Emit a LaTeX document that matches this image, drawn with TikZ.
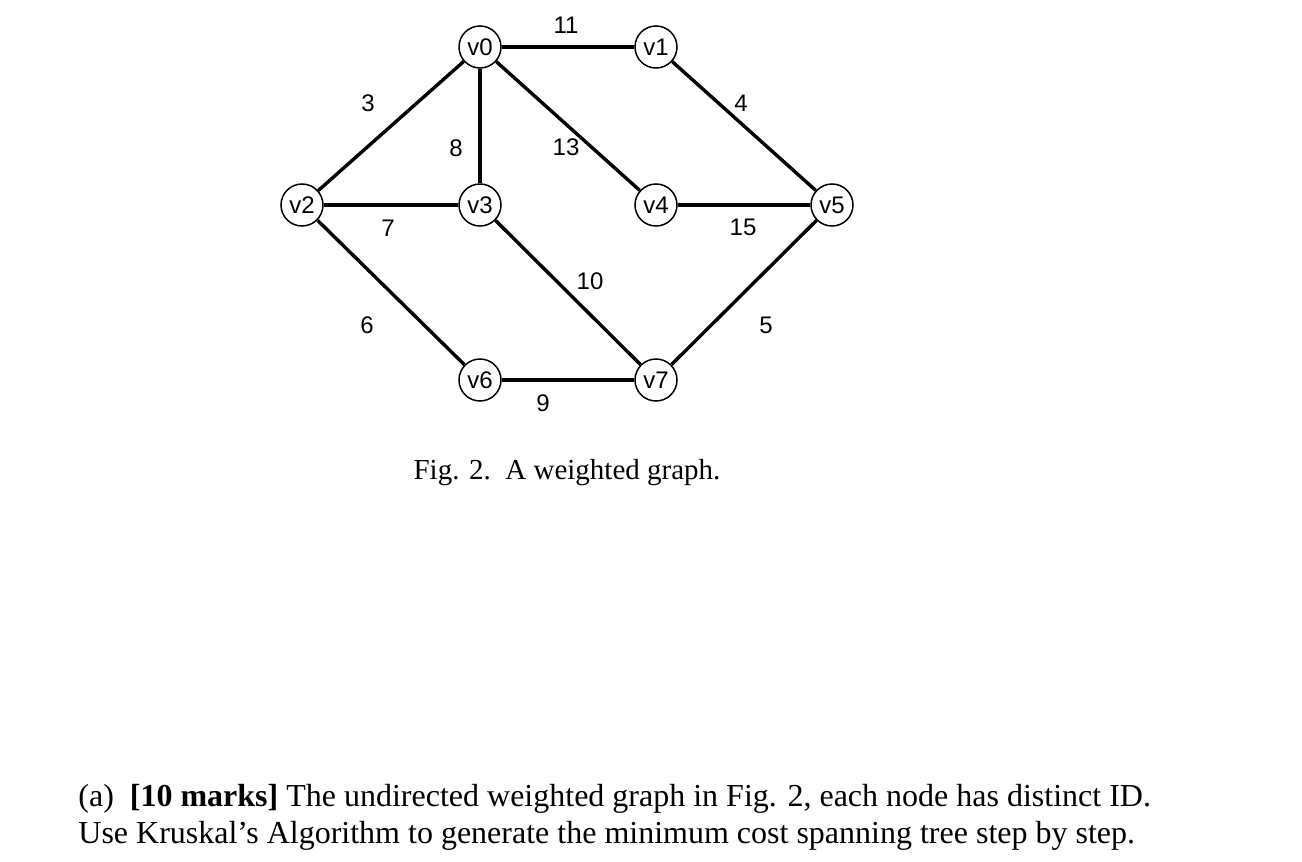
\documentclass[tikz,border=0pt]{standalone}
\usepackage{fontspec}
\setmainfont{Liberation Serif}
\newfontfamily\graphfont{Liberation Sans}
\begin{document}
\begin{tikzpicture}[x=0.5pt,y=-0.5pt,
  vert/.style={circle,draw,line width=0.75pt,minimum size=21pt,inner sep=0pt,fill=white,font=\graphfont\fontsize{12}{14}\selectfont},
  edge/.style={line width=1.7pt},
  wlabel/.style={font=\graphfont\fontsize{12}{14}\selectfont,inner sep=0pt}]
\useasboundingbox (0,0) rectangle (1302,862);
\node[vert] (v0) at (480,47) {v0};
\node[vert] (v1) at (656,47) {v1};
\node[vert] (v2) at (302,205) {v2};
\node[vert] (v3) at (480,205) {v3};
\node[vert] (v4) at (656,205) {v4};
\node[vert] (v5) at (832,205) {v5};
\node[vert] (v6) at (480,380) {v6};
\node[vert] (v7) at (656,380) {v7};
\draw[edge] (v0) -- (v1);
\draw[edge] (v0) -- (v2);
\draw[edge] (v0) -- (v3);
\draw[edge] (v0) -- (v4);
\draw[edge] (v1) -- (v5);
\draw[edge] (v2) -- (v3);
\draw[edge] (v4) -- (v5);
\draw[edge] (v2) -- (v6);
\draw[edge] (v3) -- (v7);
\draw[edge] (v5) -- (v7);
\draw[edge] (v6) -- (v7);
\node[wlabel] (w11) at (566,25) {11};
\node[wlabel] (w3) at (368,103) {3};
\node[wlabel] (w8) at (456,148) {8};
\node[wlabel] (w13) at (566,147) {13};
\node[wlabel] (w4) at (741,103) {4};
\node[wlabel] (w7) at (388,228) {7};
\node[wlabel] (w15) at (743,227) {15};
\node[wlabel] (w10) at (590,281) {10};
\node[wlabel] (w6) at (367,325) {6};
\node[wlabel] (w5) at (766,325) {5};
\node[wlabel] (w9) at (543,403) {9};
\node[font=\fontsize{14.5}{17}\selectfont,inner sep=0pt] (cap) at (567,473) {Fig. 2.\ \ A weighted graph.};
\node[anchor=base west,font=\fontsize{16}{19}\selectfont,inner sep=0pt] (l1) at (78,806) {(a)\ \ \textbf{[10 marks]} The undirected weighted graph in Fig. 2, each node has distinct ID.};
\node[anchor=base west,font=\fontsize{16}{19}\selectfont,inner sep=0pt] (l2) at (78,843) {Use Kruskal’s Algorithm to generate the minimum cost spanning tree step by step.};
\end{tikzpicture}
\end{document}
